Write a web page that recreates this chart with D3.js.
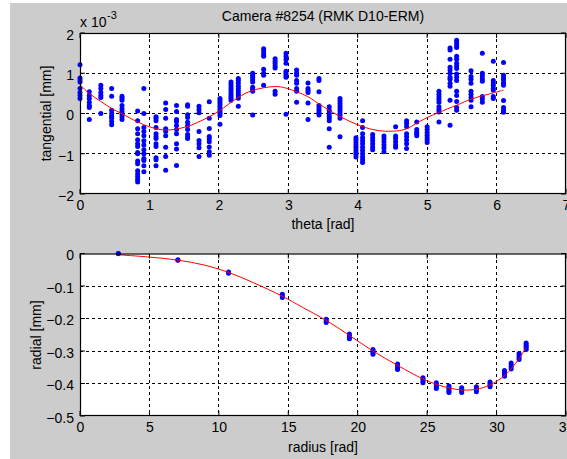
<!DOCTYPE html>
<html>
<head>
<meta charset="utf-8">
<script src="https://cdn.jsdelivr.net/npm/d3@7"></script>
<style>
  body { margin: 0; background: #fff; }
  text { font-family: "Liberation Sans", Arial, sans-serif; }
</style>
</head>
<body>
<svg id="chart"></svg>
<script>
// ---- data: tangential distortion (x 1e-3 mm) per theta column ----
const tanTheta = [0, 0.134, 0.3, 0.456, 0.605, 0.83, 0.92, 1.095, 1.234, 1.39,
  1.55, 1.714, 1.862, 2.016, 2.175, 2.28, 2.487, 2.645, 2.81, 2.967,
  3.12, 3.284, 3.442, 3.59, 3.745, 3.975, 4.07, 4.215, 4.378, 4.546,
  4.704, 4.85, 5.0, 5.17, 5.33, 5.425, 5.632, 5.795, 5.953, 6.1];
const tanValues = [
  [1.21, 0.88, 0.83, 0.78, 0.62, 0.52, 0.45, 0.37],
  [0.54, 0.45, 0.37, 0.28, 0.2, 0.15, -0.15],
  [0.7, 0.62, 0.52, 0.45, 0.4, 0.0],
  [0.62, 0.43, 0.08, 0.0, -0.07, -0.12, -0.2, -0.28],
  [0.43, 0.38, 0.33, 0.2, 0.12, 0.05, -0.02, -0.08, -0.15],
  [0.06, -0.18, -0.38, -0.5, -0.65, -0.75, -0.82, -0.97, -1.0, -1.18, -1.25, -1.42, -1.5, -1.57, -1.64, -1.7],
  [0.62, 0.0, -0.35, -0.45, -0.55, -0.68, -0.78, -0.9, -1.0, -1.12, -1.17, -1.3, -1.45],
  [-0.08, -0.12, -0.18, -0.35, -0.5, -0.57, -0.62, -0.75, -0.82, -1.1, -1.15, -1.3],
  [0.26, 0.1, -0.12, -0.38, -0.45, -0.55, -0.84, -1.07, -1.41],
  [0.2, 0.05, -0.15, -0.2, -0.3, -0.4, -0.5, -0.75, -0.88, -1.29],
  [0.22, 0.18, -0.03, -0.1, -0.22, -0.3, -0.4, -0.52, -0.58, -0.62],
  [0.18, 0.1, 0.02, -0.45, -0.67, -0.75, -0.85, -1.07],
  [0.29, -0.12, -0.37, -0.57, -0.63, -0.7, -0.83, -0.95, -1.04],
  [0.37, 0.32, 0.27, 0.22, 0.16, 0.1, 0.05, 0.0, -0.05, -0.27],
  [0.78, 0.72, 0.66, 0.6, 0.54, 0.48, 0.43, 0.38, 0.33],
  [0.87, 0.82, 0.75, 0.68, 0.62, 0.56, 0.5, 0.44, 0.38, 0.18],
  [1.0, 0.95, 0.9, 0.84, 0.78, 0.65, 0.6, 0.55, -0.04],
  [1.61, 1.55, 1.48, 1.42, 1.1, 1.0, 0.95, 0.7],
  [1.36, 1.3, 1.24, 1.18, 1.13, 0.55, 0.48],
  [1.5, 1.42, 1.34, 1.25, 1.05, 1.0, 0.95, 0.9, -0.02],
  [1.08, 1.0, 0.95, 0.82, 0.75, 0.62, 0.55, 0.28],
  [0.76, 0.62, 0.57, 0.52, 0.26, -0.15],
  [0.87, 0.82, 0.54, 0.2, 0.14, 0.08, 0.02, -0.04],
  [0.17, 0.08, 0.0, -0.06, -0.12, -0.18, -0.38, -0.84],
  [0.37, 0.31, 0.25, 0.18, 0.12, 0.06, 0.0, -0.05, -0.12, -0.58],
  [-0.6, -0.66, -0.72, -0.78, -0.84, -0.9, -0.96, -1.02, -1.08],
  [-0.18, -0.35, -0.5, -0.6, -0.68, -0.75, -0.84, -0.92, -1.0, -1.08, -1.15, -1.22],
  [-0.52, -0.6, -0.67, -0.75, -0.83, -0.9],
  [-0.56, -0.63, -0.7, -0.78, -0.86, -0.95],
  [-0.33, -0.56, -0.62, -0.7, -0.78, -0.84],
  [-0.18, -0.25, -0.33, -0.5, -0.58, -0.66, -0.75, -0.87],
  [-0.21, -0.4, -0.46, -0.5, -0.55],
  [-0.33, -0.4, -0.47, -0.54, -0.6, -0.66, -0.72],
  [0.55, 0.48, 0.41, 0.35, 0.28, 0.17, 0.1, 0.04, -0.21],
  [1.63, 1.58, 1.35, 1.15, 1.08, 1.0, 0.9, 0.85, 0.75, 0.68, 0.33, -0.29],
  [1.82, 1.76, 1.7, 1.64, 1.42, 1.35, 1.25, 1.18, 1.12, 0.98, 0.9, 0.82, 0.55, 0.45, 0.3, 0.15, 0.08],
  [1.06, 0.92, 0.85, 0.75, 0.55, 0.48, 0.4, 0.33, 0.17],
  [1.5, 1.0, 0.93, 0.86, 0.8, 0.42, 0.36, 0.28],
  [1.3, 0.82, 0.76, 0.7, 0.63, 0.58, 0.42, 0.37],
  [1.27, 0.95, 0.89, 0.83, 0.76, 0.7, 0.32, 0.15, 0.08, 0.03]
];
// fitted tangential curve
const tanFitTheta = [0, 0.13, 0.3, 0.46, 0.6, 0.83, 1.0, 1.23, 1.53, 1.84, 2.0, 2.28, 2.48,
  2.81, 2.97, 3.28, 3.44, 3.75, 4.0, 4.22, 4.4, 4.67, 4.87, 5.0, 5.16, 5.43, 5.64, 5.97, 6.1];
const tanFitValue = [0.72, 0.5, 0.3, 0.12, 0.0, -0.21, -0.33, -0.41, -0.33, -0.1, 0.06, 0.4, 0.57,
  0.67, 0.63, 0.42, 0.24, -0.08, -0.28, -0.4, -0.44, -0.4, -0.22, -0.1, 0.02, 0.21, 0.36, 0.52, 0.58];

// ---- data: radial distortion (mm) per radius ----
const radRadius = [2.76, 7.05, 10.7, 14.57, 17.73, 19.4, 21.1, 22.87, 24.7, 25.66,
  26.57, 27.49, 28.55, 29.53, 30.57, 31.05, 31.62, 32.13];
const radValues = [
  [-0.001, 0.0],
  [-0.019, -0.021],
  [-0.057, -0.061],
  [-0.125, -0.13, -0.135],
  [-0.202, -0.207, -0.212],
  [-0.248, -0.253, -0.258, -0.262],
  [-0.295, -0.3, -0.305, -0.31],
  [-0.34, -0.346, -0.352, -0.357],
  [-0.382, -0.387, -0.393, -0.398],
  [-0.398, -0.404, -0.41, -0.415],
  [-0.408, -0.413, -0.418, -0.424, -0.428],
  [-0.413, -0.418, -0.423, -0.428],
  [-0.41, -0.415, -0.42, -0.425],
  [-0.395, -0.4, -0.405, -0.41],
  [-0.36, -0.366, -0.372, -0.378],
  [-0.337, -0.343, -0.349, -0.355],
  [-0.308, -0.314, -0.32, -0.326],
  [-0.275, -0.28, -0.285, -0.29, -0.295]
];
const radFitRadius = [2.8, 5, 7, 9, 10.7, 12.5, 14.6, 16, 17.7, 19.4, 21.1, 22.9, 24.7,
  25.7, 26.6, 27.5, 28.5, 29.5, 30.6, 31.1, 31.6, 32.1];
const radFitValue = [-0.004, -0.011, -0.02, -0.036, -0.058, -0.09, -0.132, -0.165, -0.205, -0.252,
  -0.3, -0.345, -0.386, -0.403, -0.414, -0.42, -0.418, -0.405, -0.375, -0.352, -0.325, -0.29];

// tick labels
const topXTicks = [0, 1, 2, 3, 4, 5, 6, 7];
const topYTicks = [-2, -1, 0, 1, 2];
const botXTicks = [0, 5, 10, 15, 20, 25, 30, 35];
const botYTicks = [-0.5, -0.4, -0.3, -0.2, -0.1, 0];

const width = 567, height = 459;
const svg = d3.select("#chart").attr("width", width).attr("height", height);

// figure background
svg.append("rect").attr("x", 10).attr("y", 3)
  .attr("width", width - 10).attr("height", height - 3)
  .attr("fill", "#cccccc");

function drawAxes(box, x, y, xTicks, yTicks, fmtY) {
  const g = svg.append("g");
  g.append("rect")
    .attr("x", box.left).attr("y", box.top)
    .attr("width", box.right - box.left).attr("height", box.bottom - box.top)
    .attr("fill", "#ffffff");

  // dashed grid
  g.selectAll(".gx").data(xTicks.slice(1, -1)).join("line")
    .attr("x1", d => x(d)).attr("x2", d => x(d))
    .attr("y1", box.top).attr("y2", box.bottom)
    .attr("stroke", "#000").attr("stroke-dasharray", "3,3").attr("shape-rendering", "crispEdges");
  g.selectAll(".gy").data(yTicks.slice(1, -1)).join("line")
    .attr("y1", d => y(d)).attr("y2", d => y(d))
    .attr("x1", box.left).attr("x2", box.right)
    .attr("stroke", "#000").attr("stroke-dasharray", "3,3").attr("shape-rendering", "crispEdges");

  // tick labels
  const ax = g.append("g").attr("transform", "translate(0," + box.bottom + ")")
    .call(d3.axisBottom(x).tickValues(xTicks).tickSize(0).tickPadding(6).tickFormat(d3.format("d")));
  const ay = g.append("g").attr("transform", "translate(" + box.left + ",0)")
    .call(d3.axisLeft(y).tickValues(yTicks).tickSize(0).tickPadding(6).tickFormat(fmtY));
  [ax, ay].forEach(a => {
    a.select(".domain").remove();
    a.selectAll("text").attr("font-size", 14).attr("fill", "#000")
      .attr("font-family", "'Liberation Sans', Arial, sans-serif");
  });
  ay.selectAll("text").attr("dy", "0.45em");

  // inward tick marks
  const tl = 5;
  xTicks.forEach(t => {
    g.append("line").attr("x1", x(t)).attr("x2", x(t)).attr("y1", box.bottom).attr("y2", box.bottom - tl).attr("stroke", "#000");
    g.append("line").attr("x1", x(t)).attr("x2", x(t)).attr("y1", box.top).attr("y2", box.top + tl).attr("stroke", "#000");
  });
  yTicks.forEach(t => {
    g.append("line").attr("y1", y(t)).attr("y2", y(t)).attr("x1", box.left).attr("x2", box.left + tl).attr("stroke", "#000");
    g.append("line").attr("y1", y(t)).attr("y2", y(t)).attr("x1", box.right).attr("x2", box.right - tl).attr("stroke", "#000");
  });
  return g;
}

function drawBox(box) {
  svg.append("rect")
    .attr("x", box.left + 0.5).attr("y", box.top + 0.5)
    .attr("width", box.right - box.left - 1).attr("height", box.bottom - box.top - 1)
    .attr("fill", "none").attr("stroke", "#000").attr("stroke-width", 1.2);
}

// ---------- top: tangential ----------
const topBox = { left: 80, right: 566, top: 33, bottom: 194 };
const x1 = d3.scaleLinear().domain([0, 7]).range([topBox.left, topBox.right]);
const y1 = d3.scaleLinear().domain([-2, 2]).range([topBox.bottom, topBox.top]);
drawAxes(topBox, x1, y1, topXTicks, topYTicks, d3.format("d"));

const tanPts = [];
tanTheta.forEach((t, i) => tanValues[i].forEach(v => tanPts.push([t, v])));
svg.append("g").selectAll("circle").data(tanPts).join("circle")
  .attr("cx", d => x1(d[0])).attr("cy", d => y1(d[1])).attr("r", 2.5).attr("fill", "#0000ff");

svg.append("path")
  .datum(tanFitTheta.map((t, i) => [t, tanFitValue[i]]))
  .attr("fill", "none").attr("stroke", "#ff0000").attr("stroke-width", 1)
  .attr("d", d3.line().x(d => x1(d[0])).y(d => y1(d[1])).curve(d3.curveCatmullRom));
drawBox(topBox);

// ---------- bottom: radial ----------
const botBox = { left: 80, right: 566, top: 253.5, bottom: 416 };
const x2 = d3.scaleLinear().domain([0, 35]).range([botBox.left, botBox.right]);
const y2 = d3.scaleLinear().domain([-0.5, 0]).range([botBox.bottom, botBox.top]);
drawAxes(botBox, x2, y2, botXTicks, botYTicks, d => (d === 0 ? "0" : d3.format(".1f")(d)));

const radPts = [];
radRadius.forEach((r, i) => radValues[i].forEach(v => radPts.push([r, v])));
svg.append("g").selectAll("circle").data(radPts).join("circle")
  .attr("cx", d => x2(d[0])).attr("cy", d => y2(d[1])).attr("r", 2.5).attr("fill", "#0000ff");

svg.append("path")
  .datum(radFitRadius.map((r, i) => [r, radFitValue[i]]))
  .attr("fill", "none").attr("stroke", "#ff0000").attr("stroke-width", 1)
  .attr("d", d3.line().x(d => x2(d[0])).y(d => y2(d[1])).curve(d3.curveCatmullRom));
drawBox(botBox);

// ---------- texts ----------
const txt = (s, x, y, opts = {}) => svg.append("text").text(s)
  .attr("x", x).attr("y", y).attr("font-size", opts.size || 14)
  .attr("text-anchor", opts.anchor || "middle").attr("fill", "#000")
  .attr("transform", opts.rot ? "rotate(-90," + x + "," + y + ")" : null);

txt("Camera #8254 (RMK D10-ERM)", 323, 21);
txt("x 10", 80, 27, { anchor: "start" });
txt("-3", 107, 19, { anchor: "start", size: 11 });
txt("theta [rad]", 323, 229);
txt("radius [rad]", 323, 452);
txt("tangential [mm]", 51, 113.5, { rot: true });
txt("radial [mm]", 41, 335, { rot: true });
</script>
</body>
</html>
